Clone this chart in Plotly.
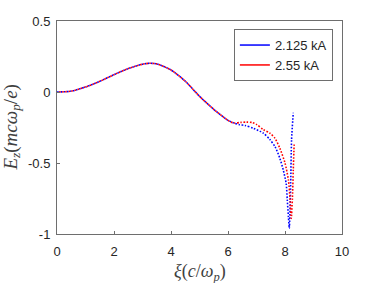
import plotly.graph_objects as go

# shared part of both curves
x_common = [0, 0.5, 1.0, 1.5, 2.0, 2.5, 3.0, 3.25, 3.5, 4.0, 4.5, 5.0, 5.5, 6.0, 6.2]
y_common = [0, 0.006, 0.035, 0.075, 0.122, 0.165, 0.196, 0.202, 0.198, 0.155, 0.076,
            -0.03, -0.122, -0.2, -0.218]

# 2.125 kA tail
x_blue_tail = [6.4, 6.6, 6.9, 7.24, 7.47, 7.65, 7.82, 7.94, 8.04, 8.08, 8.12, 8.15,
               8.2, 8.23, 8.29]
y_blue_tail = [-0.23, -0.236, -0.256, -0.29, -0.335, -0.385, -0.467, -0.55, -0.643,
               -0.76, -0.88, -0.96, -0.643, -0.338, -0.146]

# 2.55 kA tail
x_red_tail = [6.45, 6.65, 6.85, 7.0, 7.24, 7.47, 7.65, 7.82, 8.0, 8.12, 8.18, 8.22,
              8.26, 8.29, 8.32]
y_red_tail = [-0.214, -0.212, -0.215, -0.228, -0.265, -0.29, -0.326, -0.397, -0.5,
              -0.62, -0.76, -0.89, -0.75, -0.55, -0.37]

names = ["2.125 kA", "2.55 kA"]
colors = ["#0000FF", "#FF0000"]

x_ticks = [0, 2, 4, 6, 8, 10]
y_ticks = [-1, -0.5, 0, 0.5]
y_tick_text = ["-1", "-0.5", "0", "0.5"]

fig = go.Figure()
fig.add_trace(go.Scatter(x=x_common + x_blue_tail, y=y_common + y_blue_tail,
                         mode="lines", showlegend=False,
                         line=dict(color=colors[0], width=1.6, dash="1.6px,1.6px",
                                   shape="spline", smoothing=0.7)))
fig.add_trace(go.Scatter(x=x_common + x_red_tail, y=y_common + y_red_tail,
                         mode="lines", showlegend=False,
                         line=dict(color=colors[1], width=1.6, dash="0px,1.6px,1.6px,0px",
                                   shape="spline", smoothing=0.7)))
for n, c in zip(names, colors):
    fig.add_trace(go.Scatter(x=[None], y=[None], mode="lines", name=n,
                             line=dict(color=c, width=1.5)))

axis_common = dict(showline=True, mirror=True, linecolor="#6e6e6e", linewidth=1,
                   ticks="inside", ticklen=3, tickcolor="#6e6e6e", showgrid=False,
                   zeroline=False,
                   tickfont=dict(family="Liberation Sans, Arial", size=13, color="#262626"))

fig.update_xaxes(range=[0, 10], tickvals=x_ticks, ticklabelstandoff=5, **axis_common)
fig.update_yaxes(range=[-1, 0.5], tickvals=y_ticks, ticktext=y_tick_text,
                 ticklabelstandoff=3, **axis_common)

fig.update_layout(
    width=377, height=283,
    margin=dict(l=57, r=35, t=21, b=49),
    plot_bgcolor="white", paper_bgcolor="white",
    legend=dict(x=0.968, y=0.962, xanchor="right", yanchor="top",
                bgcolor="white", bordercolor="#6e6e6e", borderwidth=1,
                font=dict(family="Liberation Sans, Arial", size=13, color="#262626"),
                tracegroupgap=0, itemwidth=30),
    annotations=[
        dict(text="<i>ξ</i>(<i>c</i>/<i>ω</i><sub><i>p</i></sub>)",
             xref="paper", yref="paper", x=0.5, y=0, xanchor="center", yanchor="middle",
             yshift=-38, showarrow=False,
             font=dict(family="Liberation Serif, DejaVu Serif", size=18, color="#404040")),
        dict(text="<i>E</i><sub><i>z</i></sub>(<i>mcω</i><sub><i>p</i></sub>/<i>e</i>)",
             xref="paper", yref="paper", x=0, y=0.5, xanchor="center", yanchor="middle",
             xshift=-46, textangle=-90, showarrow=False,
             font=dict(family="Liberation Serif, DejaVu Serif", size=19, color="#404040")),
    ],
)

# remove the default 8px page margin so the figure fills the window exactly
fig.write_html("out.html", config={"displayModeBar": False},
               post_script="document.body.style.margin='0';")
